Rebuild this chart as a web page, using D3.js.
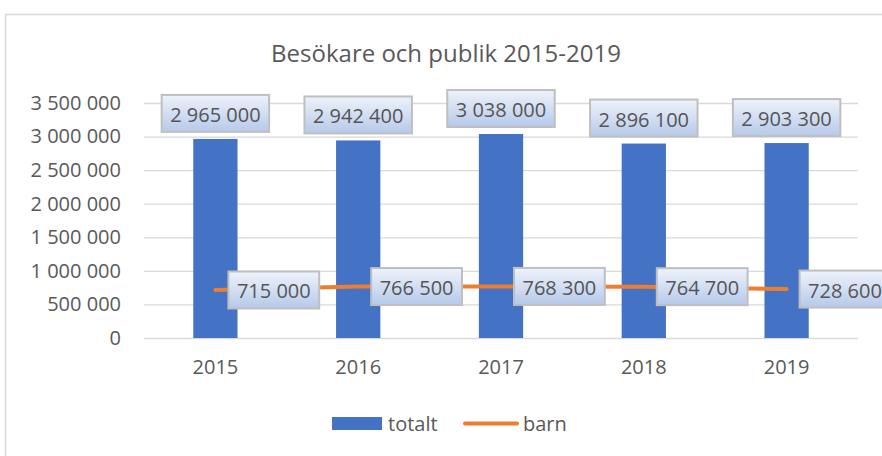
<!DOCTYPE html>
<html lang="sv">
<head>
<meta charset="UTF-8">
<script src="https://cdn.jsdelivr.net/npm/d3@7"></script>
<style>
  body { margin: 0; background: #fff; }
  svg text { font-family: "Open Sans", sans-serif; }
</style>
</head>
<body>
<script>
var years = ['2015', '2016', '2017', '2018', '2019']
var totalt = [2965000, 2942400, 3038000, 2896100, 2903300]
var barn = [715000, 766500, 768300, 764700, 728600]
var yTicks = [0, 500000, 1000000, 1500000, 2000000, 2500000, 3000000, 3500000]

var W = 882, H = 456
var plot = { l: 144, r: 858, t: 103, b: 338 }

var sv = d3.formatLocale({ decimal: ',', thousands: '\u00a0', grouping: [3], currency: ['', ' kr'] })
var fmt = sv.format(',d')

var svg = d3.select('body').append('svg').attr('width', W).attr('height', H)

var grad = svg.append('defs').append('linearGradient').attr('id', 'lblgrad')
  .attr('x1', 0).attr('y1', 0).attr('x2', 0).attr('y2', 1)
grad.append('stop').attr('offset', '0%').attr('stop-color', '#eef3fb')
grad.append('stop').attr('offset', '100%').attr('stop-color', '#b6c9e9')

// ram runt diagrammet
svg.append('rect').attr('x', 5.5).attr('y', 14.5).attr('width', 900).attr('height', 500)
  .attr('fill', '#fff').attr('stroke', '#d9d9d9').attr('stroke-width', 1.5)

svg.append('text').attr('x', 446).attr('y', 62).attr('text-anchor', 'middle')
  .attr('font-size', 24).attr('fill', '#595959').text('Besökare och publik 2015-2019')

var x = d3.scaleBand().domain(years).range([plot.l, plot.r]).paddingInner(0.69).paddingOuter(0.345)
var xc = d3.scalePoint().domain(years).range([plot.l, plot.r]).padding(0.5)
var y = d3.scaleLinear().domain([0, 3500000]).range([plot.b, plot.t])

svg.append('g').selectAll('line').data(yTicks).join('line')
  .attr('x1', plot.l).attr('x2', plot.r)
  .attr('y1', function(d){ return y(d) + 0.5 }).attr('y2', function(d){ return y(d) + 0.5 })
  .attr('stroke', '#d9d9d9').attr('stroke-width', 1.3)

var yAxis = svg.append('g').attr('transform', 'translate(' + (plot.l - 23) + ',0)')
  .call(d3.axisLeft(y).tickValues(yTicks).tickSize(0).tickPadding(0).tickFormat(fmt))
yAxis.select('.domain').remove()
yAxis.selectAll('text').attr('font-size', 20).attr('fill', '#595959')
  .style('font-family', '"Open Sans", sans-serif')

var xAxis = svg.append('g').attr('transform', 'translate(0,' + plot.b + ')')
  .call(d3.axisBottom(x).tickSize(0).tickPadding(22))
xAxis.select('.domain').remove()
xAxis.selectAll('text').attr('font-size', 20).attr('fill', '#595959')
  .style('font-family', '"Open Sans", sans-serif')

svg.append('g').selectAll('rect').data(totalt).join('rect')
  .attr('x', function(d, i){ return x(years[i]) })
  .attr('width', x.bandwidth())
  .attr('y', function(d){ return y(d) })
  .attr('height', function(d){ return plot.b - y(d) })
  .attr('fill', '#4472c4')

var line = d3.line().x(function(d, i){ return xc(years[i]) }).y(function(d){ return y(d) })
svg.append('path').datum(barn).attr('d', line)
  .attr('fill', 'none').attr('stroke', '#ed7d31').attr('stroke-width', 4).attr('stroke-linecap', 'round')

function label(g, cx, cy, value, anchor) {
  var grp = g.append('g')
  var box = grp.append('rect')
  var t = grp.append('text').attr('font-size', 20).attr('fill', '#555')
    .attr('dominant-baseline', 'central').text(fmt(value))
  var w = t.node().getComputedTextLength() + 17, h = 37
  var bx = anchor === 'left' ? cx : cx - w / 2
  box.attr('x', bx).attr('y', cy - h / 2).attr('width', w).attr('height', h)
    .attr('fill', 'url(#lblgrad)').attr('stroke', '#bfbfbf').attr('stroke-width', 2)
  t.attr('x', bx + 8.5).attr('y', cy + 1)
}

var labels = svg.append('g')
totalt.forEach(function(d, i){ label(labels, xc(years[i]), y(d) - 7 - 18.5, d, 'center') })
barn.forEach(function(d, i){ label(labels, xc(years[i]) + 13, y(d), d, 'left') })

// förklaring
var lg = svg.append('g')
lg.append('rect').attr('x', 332).attr('y', 417).attr('width', 50).attr('height', 13).attr('fill', '#4472c4')
lg.append('text').attr('x', 388).attr('y', 423).attr('dominant-baseline', 'central')
  .attr('font-size', 20).attr('fill', '#595959').text('totalt')
lg.append('line').attr('x1', 465).attr('x2', 517).attr('y1', 423.5).attr('y2', 423.5)
  .attr('stroke', '#ed7d31').attr('stroke-width', 4).attr('stroke-linecap', 'round')
lg.append('text').attr('x', 523).attr('y', 423).attr('dominant-baseline', 'central')
  .attr('font-size', 20).attr('fill', '#595959').text('barn')
</script>
</body>
</html>
